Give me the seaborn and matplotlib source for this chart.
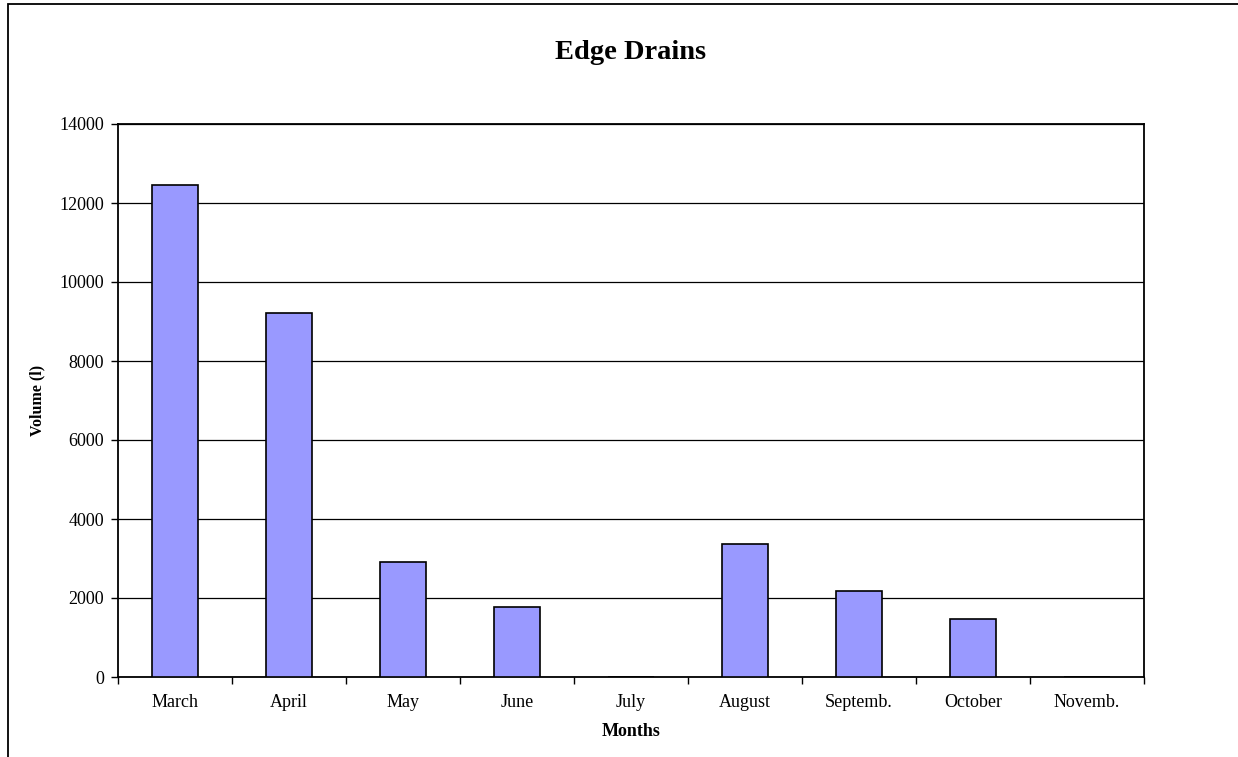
import matplotlib
matplotlib.use("Agg")
import matplotlib.pyplot as plt
import seaborn as sns
import pandas as pd
import numpy as np
from matplotlib.patches import Rectangle

months = ["March", "April", "May", "June", "July", "August", "Septemb.", "October", "Novemb."]
volume = [12460, 9215, 2910, 1760, 0, 3360, 2180, 1470, 0]
yticks = [0, 2000, 4000, 6000, 8000, 10000, 12000, 14000]

sns.set_theme(style="white")
plt.rcParams['font.family'] = ['Liberation Serif', 'DejaVu Serif']
plt.rcParams['text.color'] = 'black'
plt.rcParams['axes.labelcolor'] = 'black'
plt.rcParams['xtick.color'] = 'black'
plt.rcParams['ytick.color'] = 'black'

df = pd.DataFrame({"Month": months, "Volume": volume})

W, H = 1238, 757
fig = plt.figure(figsize=(W / 100, H / 100), dpi=100)
ax = fig.add_axes([118 / W, 1 - 677 / H, (1144 - 118) / W, (677 - 124) / H])

sns.barplot(data=df, x="Month", y="Volume", ax=ax, color="#9999FF", width=0.4,
            edgecolor="black", linewidth=1.2, saturation=1, zorder=3)

ax.set_xlim(-0.5, len(months) - 0.5)
ax.set_ylim(0, 14000)
ax.set_yticks(yticks)
ax.set_yticklabels([str(t) for t in yticks], fontsize=13)
ax.yaxis.grid(True, color="black", linewidth=0.9, zorder=0)
ax.set_axisbelow(True)

ax.set_xticks(range(len(months)))
ax.set_xticklabels(months, fontsize=13)
ax.set_xticks(np.arange(-0.5, len(months)), minor=True)
ax.tick_params(axis="x", which="major", length=0, pad=12)
ax.tick_params(axis="x", which="minor", length=5, width=1, color="black", direction="out", bottom=True)
ax.tick_params(axis="y", which="major", length=5, width=1, color="black", direction="out", left=True, pad=5)

for s in ax.spines.values():
    s.set_visible(True)
    s.set_color("black")
    s.set_linewidth(1.3)

ax.set_xlabel("Months", fontsize=13, fontweight="bold", labelpad=9, color="black")
ax.set_ylabel("Volume (l)", fontsize=11.5, fontweight="bold", labelpad=10, color="black")
ax.set_title("Edge Drains", fontsize=20.5, fontweight="bold", pad=47, color="black")

# outer frame (cropped at right/bottom)
fig.patches.append(Rectangle((8 / W, -0.5), 2.0, 1.5 - 4 / H, transform=fig.transFigure,
                             fill=False, edgecolor="black", linewidth=1.3, clip_on=False))

fig.savefig("out.png", dpi=100)
